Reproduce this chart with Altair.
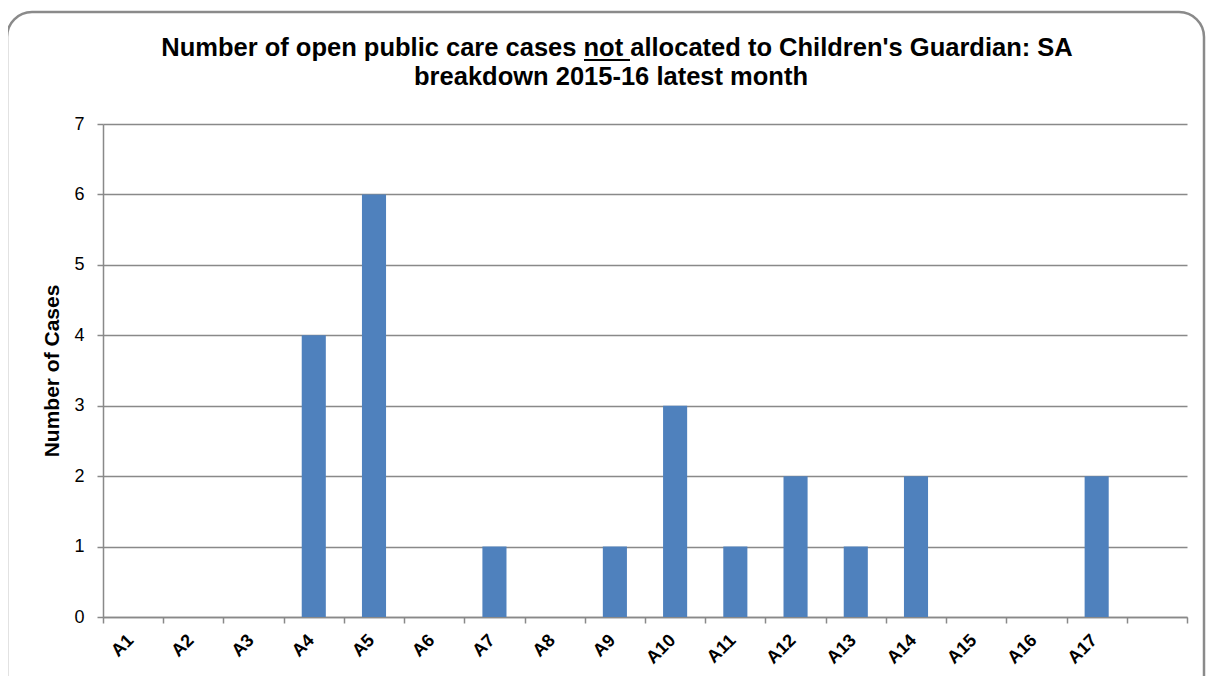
import altair as alt
import pandas as pd

categories = ["A1", "A2", "A3", "A4", "A5", "A6", "A7", "A8", "A9",
              "A10", "A11", "A12", "A13", "A14", "A15", "A16", "A17"]
cases = [0, 0, 0, 4, 6, 0, 1, 0, 1, 3, 1, 2, 1, 2, 0, 0, 2]
title_lines = [
    "Number of open public care cases not allocated to Children's Guardian: SA",
    "breakdown 2015-16 latest month",
]
y_title = "Number of Cases"
y_ticks = [0, 1, 2, 3, 4, 5, 6, 7]

df = pd.DataFrame({"area": categories, "cases": cases})
domain = categories + [" "]
one = pd.DataFrame({"k": [0]})

FONT = "Liberation Sans"
GRID = "#898989"

bars = alt.Chart(df).mark_bar(color="#4F81BD", width={"band": 0.4}).encode(
    x=alt.X(
        "area:N",
        sort=domain,
        scale=alt.Scale(domain=domain, paddingInner=0, paddingOuter=0),
        axis=alt.Axis(
            title=None, labelAngle=-45, labelAlign="right", labelBaseline="top",
            labelFont=FONT, labelFontSize=18, labelFontWeight="bold",
            labelColor="black", tickBand="extent", tickSize=6, tickColor=GRID,
            tickWidth=1.5, domainColor=GRID, domainWidth=1.5, labelPadding=8,
            labelOffset=-9, grid=False, labelOverlap=False,
        ),
    ),
    y=alt.Y(
        "cases:Q",
        scale=alt.Scale(domain=[0, 7], nice=False),
        axis=alt.Axis(
            values=y_ticks, title=y_title, titleFont=FONT, titleFontSize=21,
            titleFontWeight="bold", titleColor="black", titlePadding=11,
            labelFont=FONT, labelFontSize=18, labelColor="black",
            labelPadding=13, tickSize=6, tickColor=GRID, tickWidth=1.5,
            domainColor=GRID, domainWidth=1.5, grid=True, gridColor=GRID,
            gridWidth=1.5,
        ),
    ),
)

t1 = alt.Chart(one).mark_text(
    text=title_lines[0], font=FONT, fontSize=25.5, fontWeight="bold",
    align="center", baseline="alphabetic", color="black",
).encode(x=alt.value(514), y=alt.value(-68))

t2 = alt.Chart(one).mark_text(
    text=title_lines[1], font=FONT, fontSize=25.5, fontWeight="bold",
    align="center", baseline="alphabetic", color="black",
).encode(x=alt.value(508), y=alt.value(-39))

underline = alt.Chart(one).mark_rule(color="black", strokeWidth=2).encode(
    x=alt.value(481), x2=alt.value(527), y=alt.value(-64)
)

border = alt.Chart(one).mark_rect(
    filled=False, stroke="#8a8a8a", strokeWidth=2.5, cornerRadius=25
).encode(
    x=alt.value(-96), x2=alt.value(1101), y=alt.value(-112), y2=alt.value(600)
)

chart = alt.layer(border, bars, t1, t2, underline).properties(
    width=1084,
    height=493,
    padding={"left": 95, "top": 116, "right": 19, "bottom": 59},
    autosize=alt.AutoSizeParams(type="none"),
    background="white",
).configure_view(stroke=None)

chart.save("out.html", embed_options={"renderer": "svg", "actions": False})
